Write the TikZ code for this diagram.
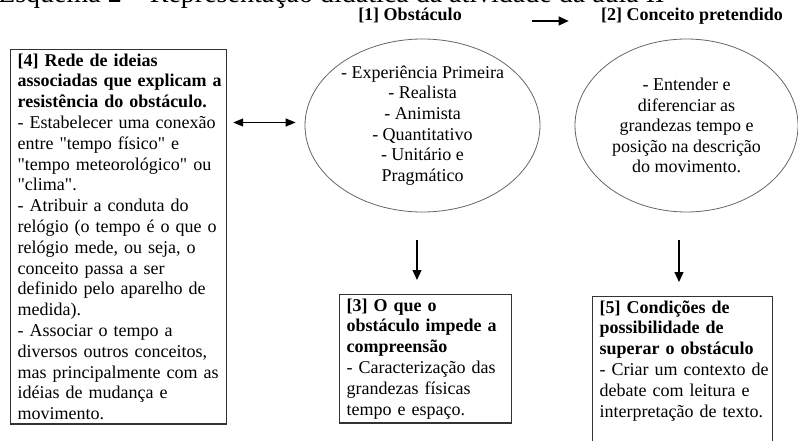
\documentclass[tikz,border=0pt]{standalone}
\usepackage{fontspec}
\setmainfont{Liberation Serif}[Ligatures=TeXOff]
\usepackage{tikz}
\usetikzlibrary{arrows.meta, shapes.geometric, calc}
\hyphenpenalty=10000
\exhyphenpenalty=10000
\tikzset{
    caixa/.style={draw=black!80, line width=1.2pt, anchor=north west, align=left, inner xsep=7pt, inner ysep=4pt, font=\fontsize{18}{20.8}\selectfont},
    balao/.style={ellipse, draw=black!60, line width=0.8pt, inner sep=0pt, align=center, font=\fontsize{18}{20.6}\selectfont},
    rotulo/.style={anchor=base, font=\fontsize{18}{20.6}\selectfont\bfseries},
    seta/.style={-{Triangle[length=10pt, width=9pt]}, line width=1.2pt},
    dupla/.style={{Triangle[length=10pt, width=8pt]}-{Triangle[length=10pt, width=8pt]}, line width=1.2pt}
}

\begin{document}
\begin{tikzpicture}[x=1pt, y=-1pt]
    \useasboundingbox (0,0) rectangle (798,441);
    \node[anchor=base west, inner sep=0pt, font=\fontsize{28}{30}\selectfont] (titulo) at (-2,2.5) {Esquema 2 – Representação didática da atividade da aula II};
    \node[rotulo] (lbl1) at (410,21) {[1] Obstáculo};
    \node[rotulo] (lbl2) at (692,21) {[2] Conceito pretendido};
    \node[balao, minimum width=235pt, minimum height=173pt] (obst) at (422.5,125.5)
        {- Experiência Primeira\\- Realista\\- Animista\\- Quantitativo\\- Unitário e\\Pragmático};
    \node[balao, minimum width=223pt, minimum height=173pt] (conc) at (686.5,125.5)
        {- Entender e\\diferenciar as\\grandezas tempo e\\posição na descrição\\do movimento.};
    \node[caixa, text width=202pt] (rede) at (10,49)
        {\textbf{[4] Rede de ideias}\\\textbf{associadas~que~explicam~a}\\\textbf{resistência~do~obstáculo.}\\-~Estabelecer~uma~conexão\\entre "tempo físico" e\\"tempo meteorológico" ou\\"clima".\\-~Atribuir a conduta do\\relógio~(o~tempo~é~o~que~o\\relógio mede, ou seja, o\\conceito passa a ser\\definido~pelo~aparelho~de\\medida).\\-~Associar o tempo a\\diversos~outros~conceitos,\\mas~principalmente~com~as\\idéias de mudança e\\movimento.};
    \node[caixa, text width=158pt] (impede) at (339,294)
        {\textbf{[3] O que o}\\\textbf{obstáculo~impede~a}\\\textbf{compreensão}\\-~Caracterização~das\\grandezas físicas\\tempo e espaço.};
    \node[caixa, text width=166pt, text depth=150pt] (superar) at (592,296)
        {\textbf{[5] Condições~de}\\\textbf{possibilidade de}\\\textbf{superar~o~obstáculo}\\-~Criar~um~contexto~de\\debate com leitura e\\interpretação~de~texto.};
    % setas
    \draw[seta] ([xshift=67pt]lbl1.base east) -- ([xshift=-29pt]lbl2.base west);
    \draw[dupla] ([xshift=6pt, yshift=3pt]rede.east |- obst.west) -- ([xshift=-9pt, yshift=3pt]obst.west);
    \draw[seta] ([xshift=-5.5pt, yshift=-28pt]obst.south) -- ([xshift=-5.5pt, yshift=14pt]obst.south |- impede.north);
    \draw[seta] ([xshift=-7.5pt, yshift=-28pt]conc.south) -- ([xshift=-7.5pt, yshift=14pt]conc.south |- superar.north);
\end{tikzpicture}
\end{document}
